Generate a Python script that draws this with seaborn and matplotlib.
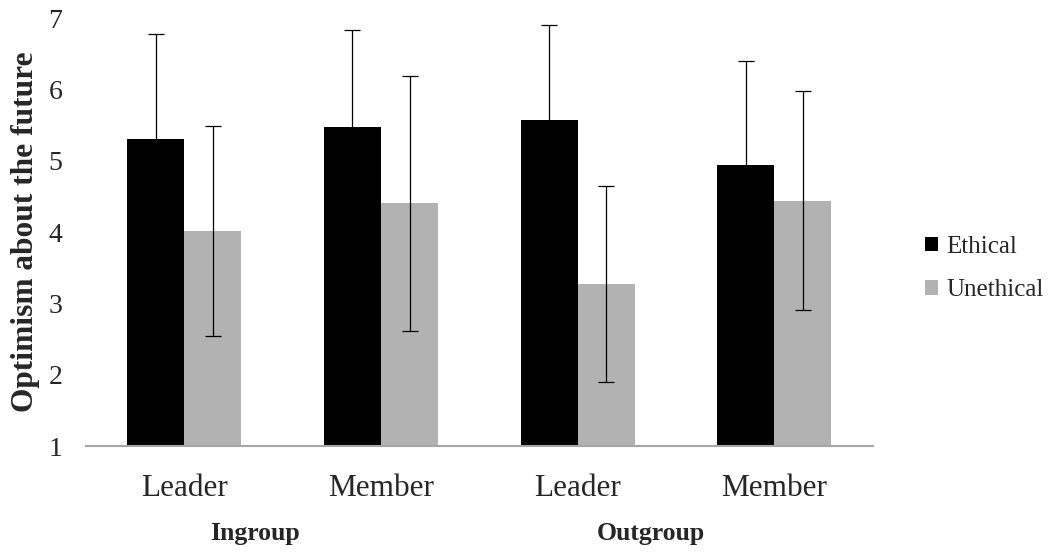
import matplotlib
matplotlib.use("Agg")
import matplotlib.pyplot as plt
import seaborn as sns
import pandas as pd
import numpy as np

# Data
categories = ["Ingroup Leader", "Ingroup Member", "Outgroup Leader", "Outgroup Member"]
tick_labels = ["Leader", "Member", "Leader", "Member"]
groups = ["Ingroup", "Outgroup"]
conditions = ["Ethical", "Unethical"]
ethical_means = [5.30, 5.47, 5.57, 4.94]
ethical_sd = [1.47, 1.36, 1.33, 1.46]
unethical_means = [4.01, 4.40, 3.27, 4.44]
unethical_sd = [1.47, 1.79, 1.37, 1.53]

df = pd.DataFrame({
    "category": categories * 2,
    "condition": ["Ethical"] * 4 + ["Unethical"] * 4,
    "mean": ethical_means + unethical_means,
    "sd": ethical_sd + unethical_sd,
})

sns.set_theme(style="white")
plt.rcParams["font.family"] = ["Liberation Serif", "DejaVu Serif"]

fig = plt.figure(figsize=(10.53, 5.52), dpi=100)
ax = fig.add_axes([86 / 1053, 1 - 446 / 552, (872.7 - 86) / 1053, (446 - 18) / 552])

palette = {"Ethical": "#000000", "Unethical": "#b2b2b2"}
sns.barplot(data=df, x="category", y="mean", hue="condition", order=categories,
            hue_order=conditions, palette=palette, width=0.58, gap=0,
            linewidth=0, errorbar=None, ax=ax, legend=True)

# error bars positioned from the bar patches
for container, cond in zip(ax.containers, conditions):
    sub = df[df["condition"] == cond].set_index("category").loc[categories]
    xs = [p.get_x() + p.get_width() / 2 for p in container.patches]
    ax.errorbar(xs, sub["mean"].values, yerr=sub["sd"].values, fmt="none",
                ecolor="black", elinewidth=0.9, capsize=5.5, capthick=0.9, zorder=5)

ax.set_ylim(1, 7)
ax.set_xlim(-0.5, 3.5)
ax.set_yticks(range(1, 8))
ax.set_xticks(range(4))
ax.set_xticklabels(tick_labels)
ax.tick_params(axis="y", length=0, pad=17, labelsize=20)
ax.tick_params(axis="x", length=0, pad=20.5, labelsize=22.5)
ax.set_xlabel("")
ax.set_ylabel("Optimism about the future", fontsize=22.6, fontweight="bold")
ax.yaxis.set_label_coords(-0.0585, 0.5)

for s in ["top", "right", "left"]:
    ax.spines[s].set_visible(False)
ax.spines["bottom"].set_color("#a6a6a6")
ax.spines["bottom"].set_linewidth(1.5)

# group labels
ax.text(0.36, -0.2056, groups[0], transform=ax.get_xaxis_transform(), ha="center", va="center",
        fontsize=18.5, fontweight="bold")
ax.text(2.37, -0.2056, groups[1], transform=ax.get_xaxis_transform(), ha="center", va="center",
        fontsize=18.5, fontweight="bold")

handles, labels = ax.get_legend_handles_labels()
ax.legend(handles, labels, loc="center left", bbox_to_anchor=(902 / 1053, 1 - 268.5 / 552),
          bbox_transform=fig.transFigure, frameon=False, fontsize=18,
          handlelength=0.52, handleheight=0.52, handletextpad=0.36, labelspacing=0.85)

fig.savefig("out.png", dpi=100)
